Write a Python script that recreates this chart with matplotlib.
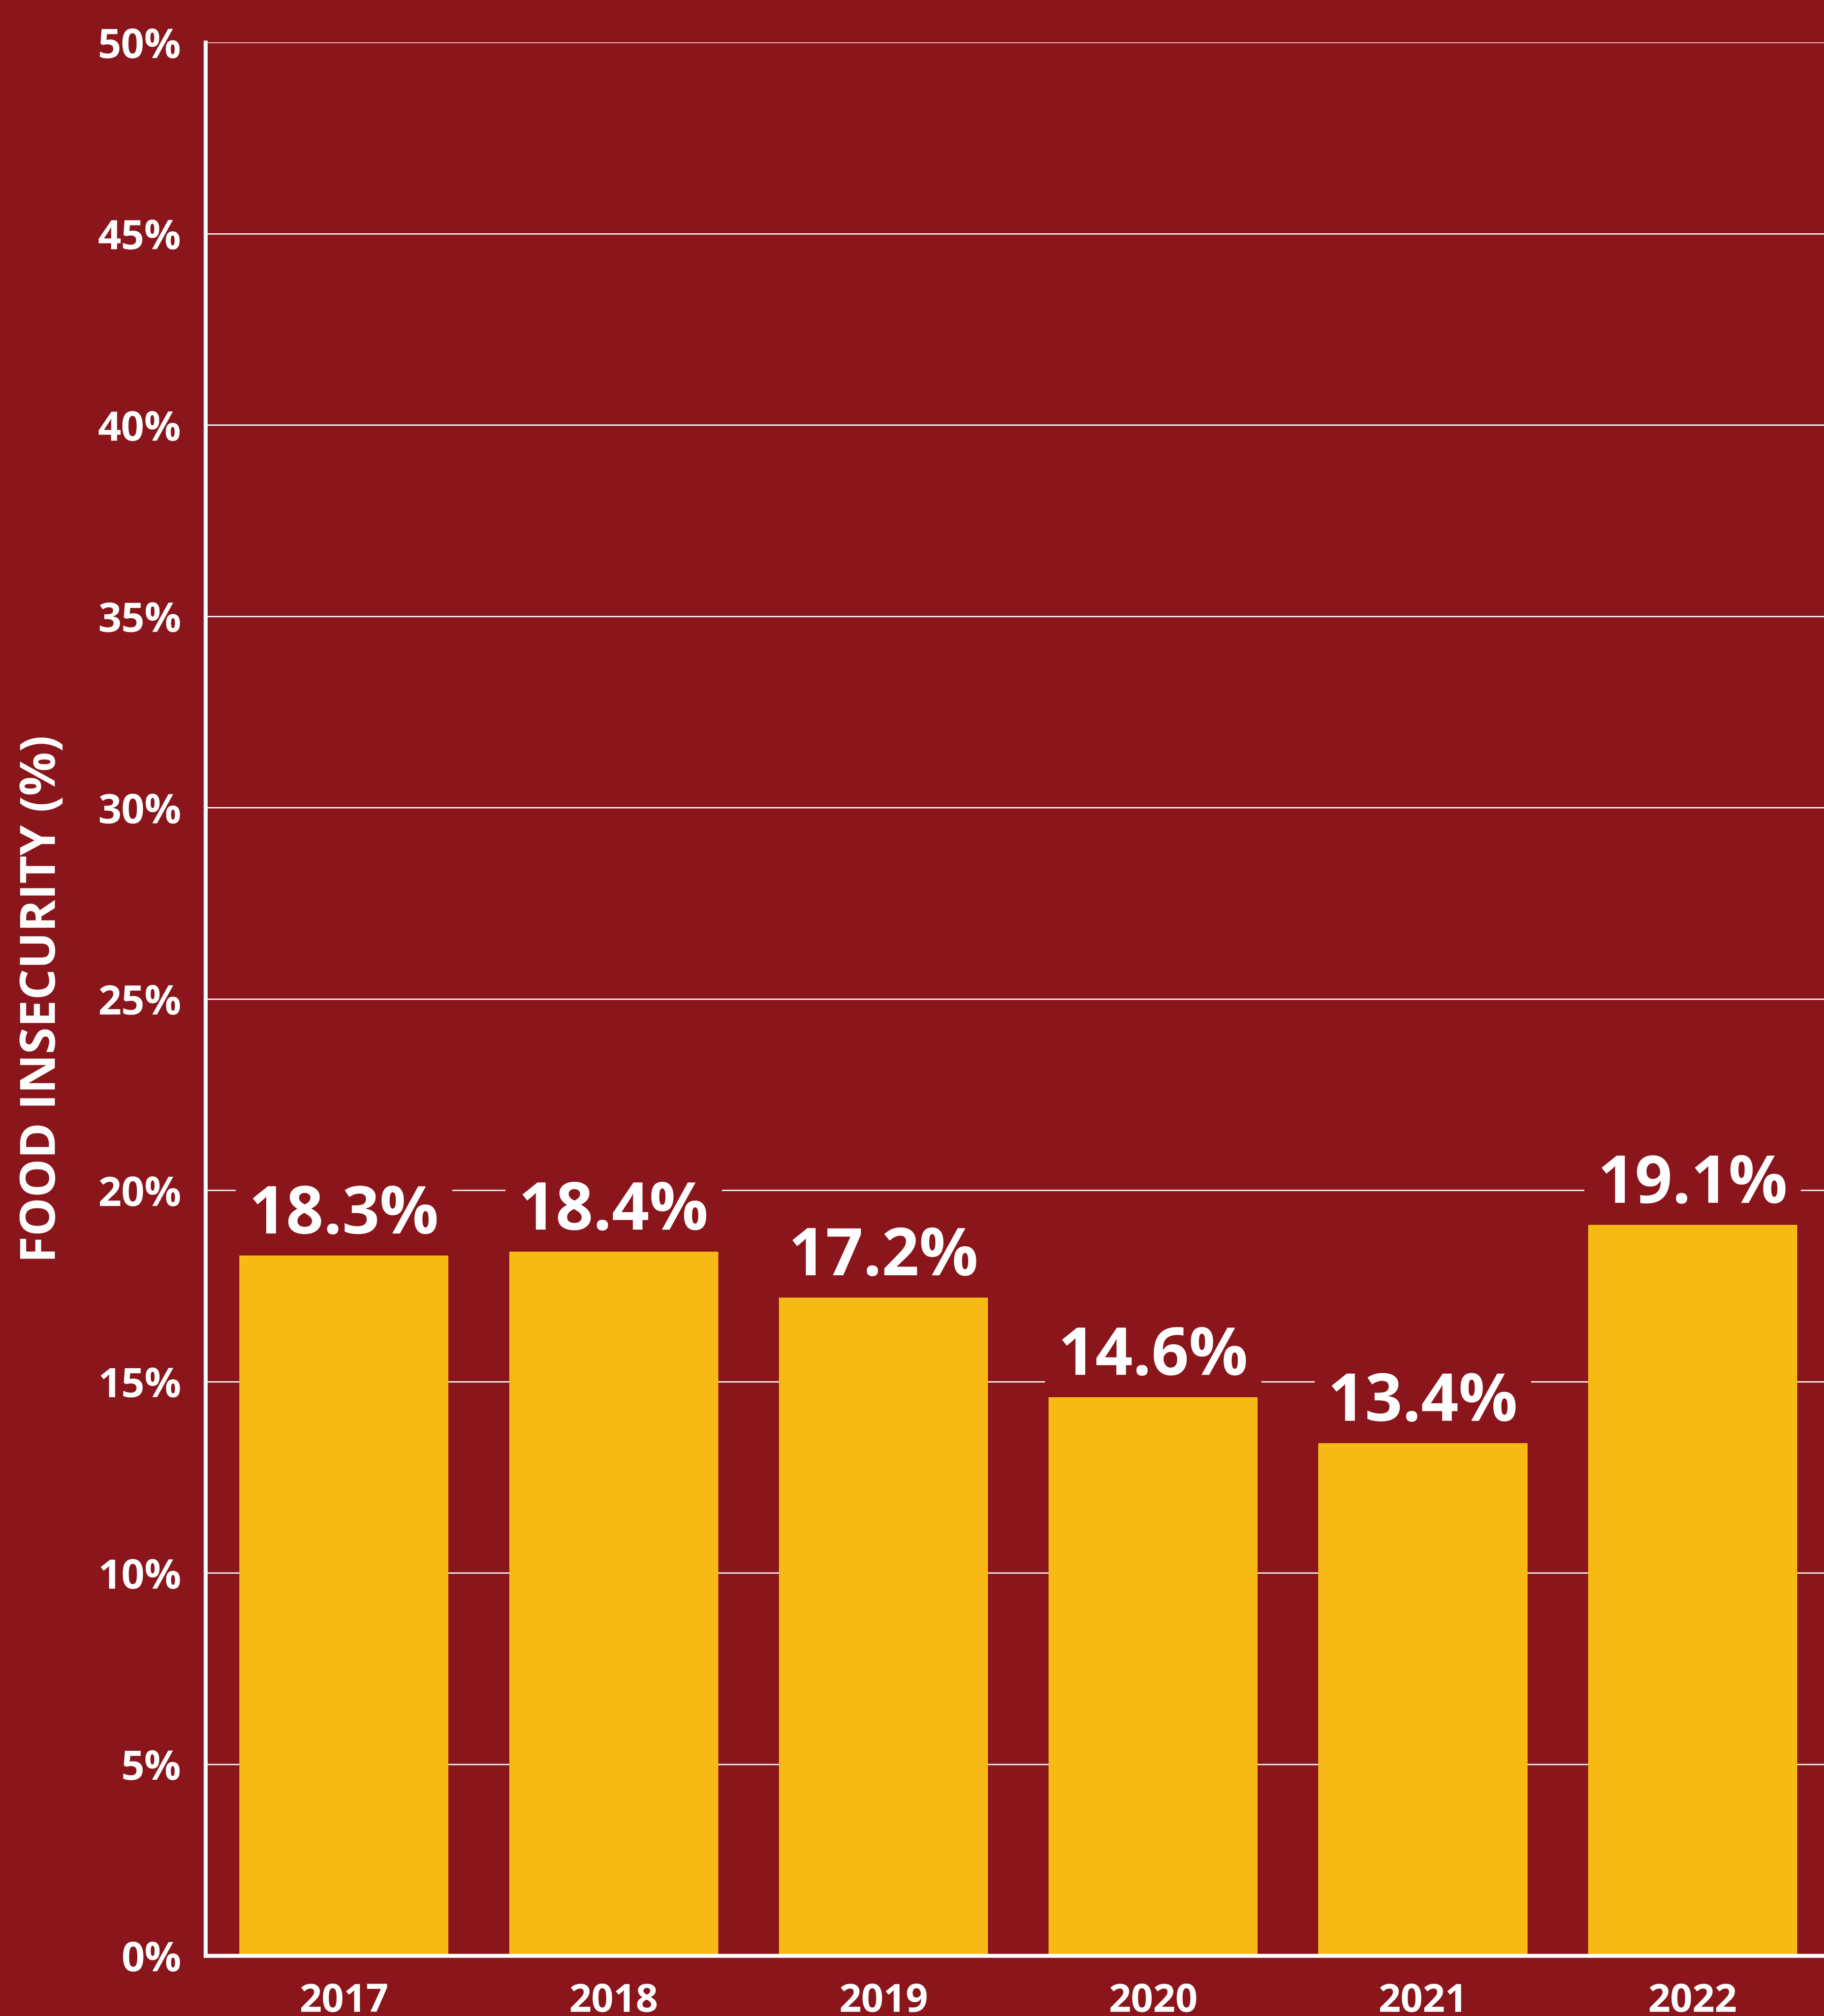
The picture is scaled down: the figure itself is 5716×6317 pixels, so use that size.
import matplotlib
matplotlib.use("Agg")
import matplotlib.pyplot as plt

plt.rcParams['font.family'] = ['Open Sans', 'DejaVu Sans']

# datos
years = ["2017", "2018", "2019", "2020", "2021", "2022"]
values = [18.3, 18.4, 17.2, 14.6, 13.4, 19.1]
y_ticks = [0, 5, 10, 15, 20, 25, 30, 35, 40, 45, 50]
y_label = "FOOD INSECURITY (%)"

bg = "#8a161b"
yellow = "#f7ba14"

fig = plt.figure(figsize=(57.16, 63.17), dpi=100, facecolor=bg)
ax = fig.add_axes([0.1127, 0.0299, 0.8873, 0.9490])
ax.set_facecolor(bg)

x = list(range(len(years)))
ax.bar(x, values, width=0.775, color=yellow, zorder=3)

# etiquetas encima de cada barra (con caja del color de fondo que tapa la rejilla)
for xi, v in zip(x, values):
    ax.annotate(f"{v}%", (xi, v), xytext=(0, 50), textcoords="offset points",
                ha="center", va="baseline", fontsize=148, fontweight="bold",
                color="white", zorder=2,
                bbox=dict(boxstyle="square,pad=0.2", fc=bg, ec="none"))

ax.set_xlim(-0.513, 5.487)
ax.set_ylim(0, 50)
ax.set_xticks(x)
ax.set_xticklabels(years)
ax.set_yticks(y_ticks)
ax.set_yticklabels([f"{t}%" for t in y_ticks])

ax.tick_params(axis="both", length=0, colors="white")
ax.tick_params(axis="y", pad=55, labelsize=92)
ax.tick_params(axis="x", pad=60, labelsize=88)
for lab in ax.get_xticklabels() + ax.get_yticklabels():
    lab.set_fontweight("bold")

ax.grid(axis="y", color="white", lw=3)
ax.set_axisbelow(True)

for s in ["top", "right"]:
    ax.spines[s].set_visible(False)
for s in ["left", "bottom"]:
    ax.spines[s].set_color("white")
    ax.spines[s].set_linewidth(9)
    ax.spines[s].set_zorder(4)

fig.text(0.0233, 0.5045, y_label, rotation=90, ha="center", va="center",
         fontsize=110, fontweight="bold", color="white")

fig.savefig("out.png", dpi=100, facecolor=bg)
